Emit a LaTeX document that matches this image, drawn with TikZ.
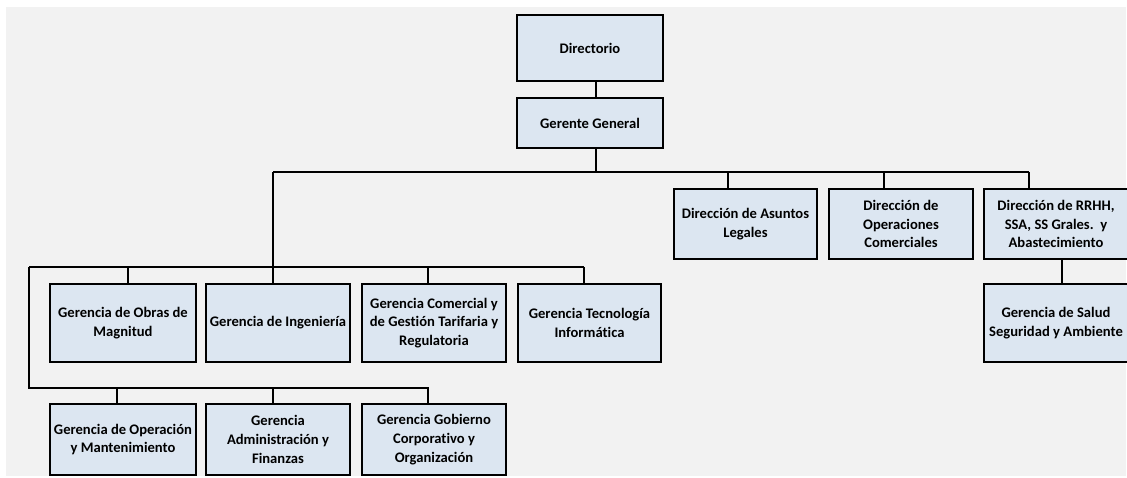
\documentclass[tikz,border=0pt]{standalone}
\usepackage{fontspec}
\setmainfont{Carlito}[Ligatures=NoCommon]
\definecolor{boxfill}{HTML}{DCE6F1}
\definecolor{bggray}{HTML}{F2F2F2}
\tikzset{
  orgbox/.style={draw=black, line width=1.4pt, fill=boxfill, align=center,
    font=\fontsize{14.6}{18.7}\selectfont\bfseries, inner sep=0pt},
  conn/.style={draw=black, line width=1.3pt},
}
\begin{document}
\begin{tikzpicture}[x=1pt, y=-1pt]
\useasboundingbox (0,0) rectangle (1127,478);
\clip (0,0) rectangle (1127,478);
\fill[bggray] (6,7) rectangle (1126,476);
% nodes
\node[orgbox, minimum width=146pt, minimum height=66pt] (dir) at (590,48) {Directorio};
\node[orgbox, minimum width=146pt, minimum height=50pt] (gg) at (590,123) {Gerente General};
\node[orgbox, minimum width=143pt, minimum height=70pt] (leg) at (745.5,224) {Dirección de Asuntos\\Legales};
\node[orgbox, minimum width=144pt, minimum height=70pt] (ope) at (901,224) {Dirección de\\Operaciones\\Comerciales};
\node[orgbox, minimum width=144pt, minimum height=70pt] (rrhh) at (1056,224) {Dirección de RRHH,\\SSA, SS Grales.\ \ y\\Abastecimiento};
\node[orgbox, minimum width=144pt, minimum height=78pt] (sal) at (1056,323) {Gerencia de Salud\\Seguridad y Ambiente};
\node[orgbox, minimum width=146pt, minimum height=78pt] (obr) at (123,323) {Gerencia de Obras de\\Magnitud};
\node[orgbox, minimum width=144pt, minimum height=78pt] (ing) at (278,323) {Gerencia de Ingeniería};
\node[orgbox, minimum width=144pt, minimum height=78pt] (com) at (434,323) {Gerencia Comercial y\\de Gestión Tarifaria y\\Regulatoria};
\node[orgbox, minimum width=143pt, minimum height=78pt] (tec) at (589.5,323) {Gerencia Tecnología\\Informática};
\node[orgbox, minimum width=146pt, minimum height=71pt] (om) at (123,439.5) {Gerencia de Operación\\y Mantenimiento};
\node[orgbox, minimum width=144pt, minimum height=71pt] (adm) at (278,439.5) {Gerencia\\Administración y\\Finanzas};
\node[orgbox, minimum width=144pt, minimum height=71pt] (gob) at (434,439.5) {Gerencia Gobierno\\Corporativo y\\Organización};
% bus coordinates
\coordinate (g1) at (596,172);
\coordinate (b1L) at (273,172);
\coordinate (b1R) at (1029,172);
\coordinate (d1) at (728,172);
\coordinate (d2) at (884,172);
\coordinate (b2L) at (29,267);
\coordinate (b2R) at (584,267);
\coordinate (e1) at (128,267);
\coordinate (e3) at (428,267);
\coordinate (b3L) at (29,388);
\coordinate (b3R) at (428,388);
\coordinate (f1) at (117,388);
\coordinate (f2) at (273,388);
\coordinate (s1) at (1062,300);
% connectors
\draw[conn] (dir.south -| g1) -- (gg.north -| g1);
\draw[conn] (gg.south -| g1) -- (g1);
\draw[conn] (b1L) -- (b1R);
\draw[conn] (d1) -- (leg.north -| d1);
\draw[conn] (d2) -- (ope.north -| d2);
\draw[conn] (b1R) -- (rrhh.north -| b1R);
\draw[conn] (b1L) -- (ing.north -| b1L);
\draw[conn] (b2L) -- (b2R);
\draw[conn] (e1) -- (obr.north -| e1);
\draw[conn] (e3) -- (com.north -| e3);
\draw[conn] (b2R) -- (tec.north -| b2R);
\draw[conn] (b2L) -- (b3L) -- (b3R) -- (gob.north -| b3R);
\draw[conn] (f1) -- (om.north -| f1);
\draw[conn] (f2) -- (adm.north -| f2);
\draw[conn] (rrhh.south -| s1) -- (sal.north -| s1);
\end{tikzpicture}
\end{document}
